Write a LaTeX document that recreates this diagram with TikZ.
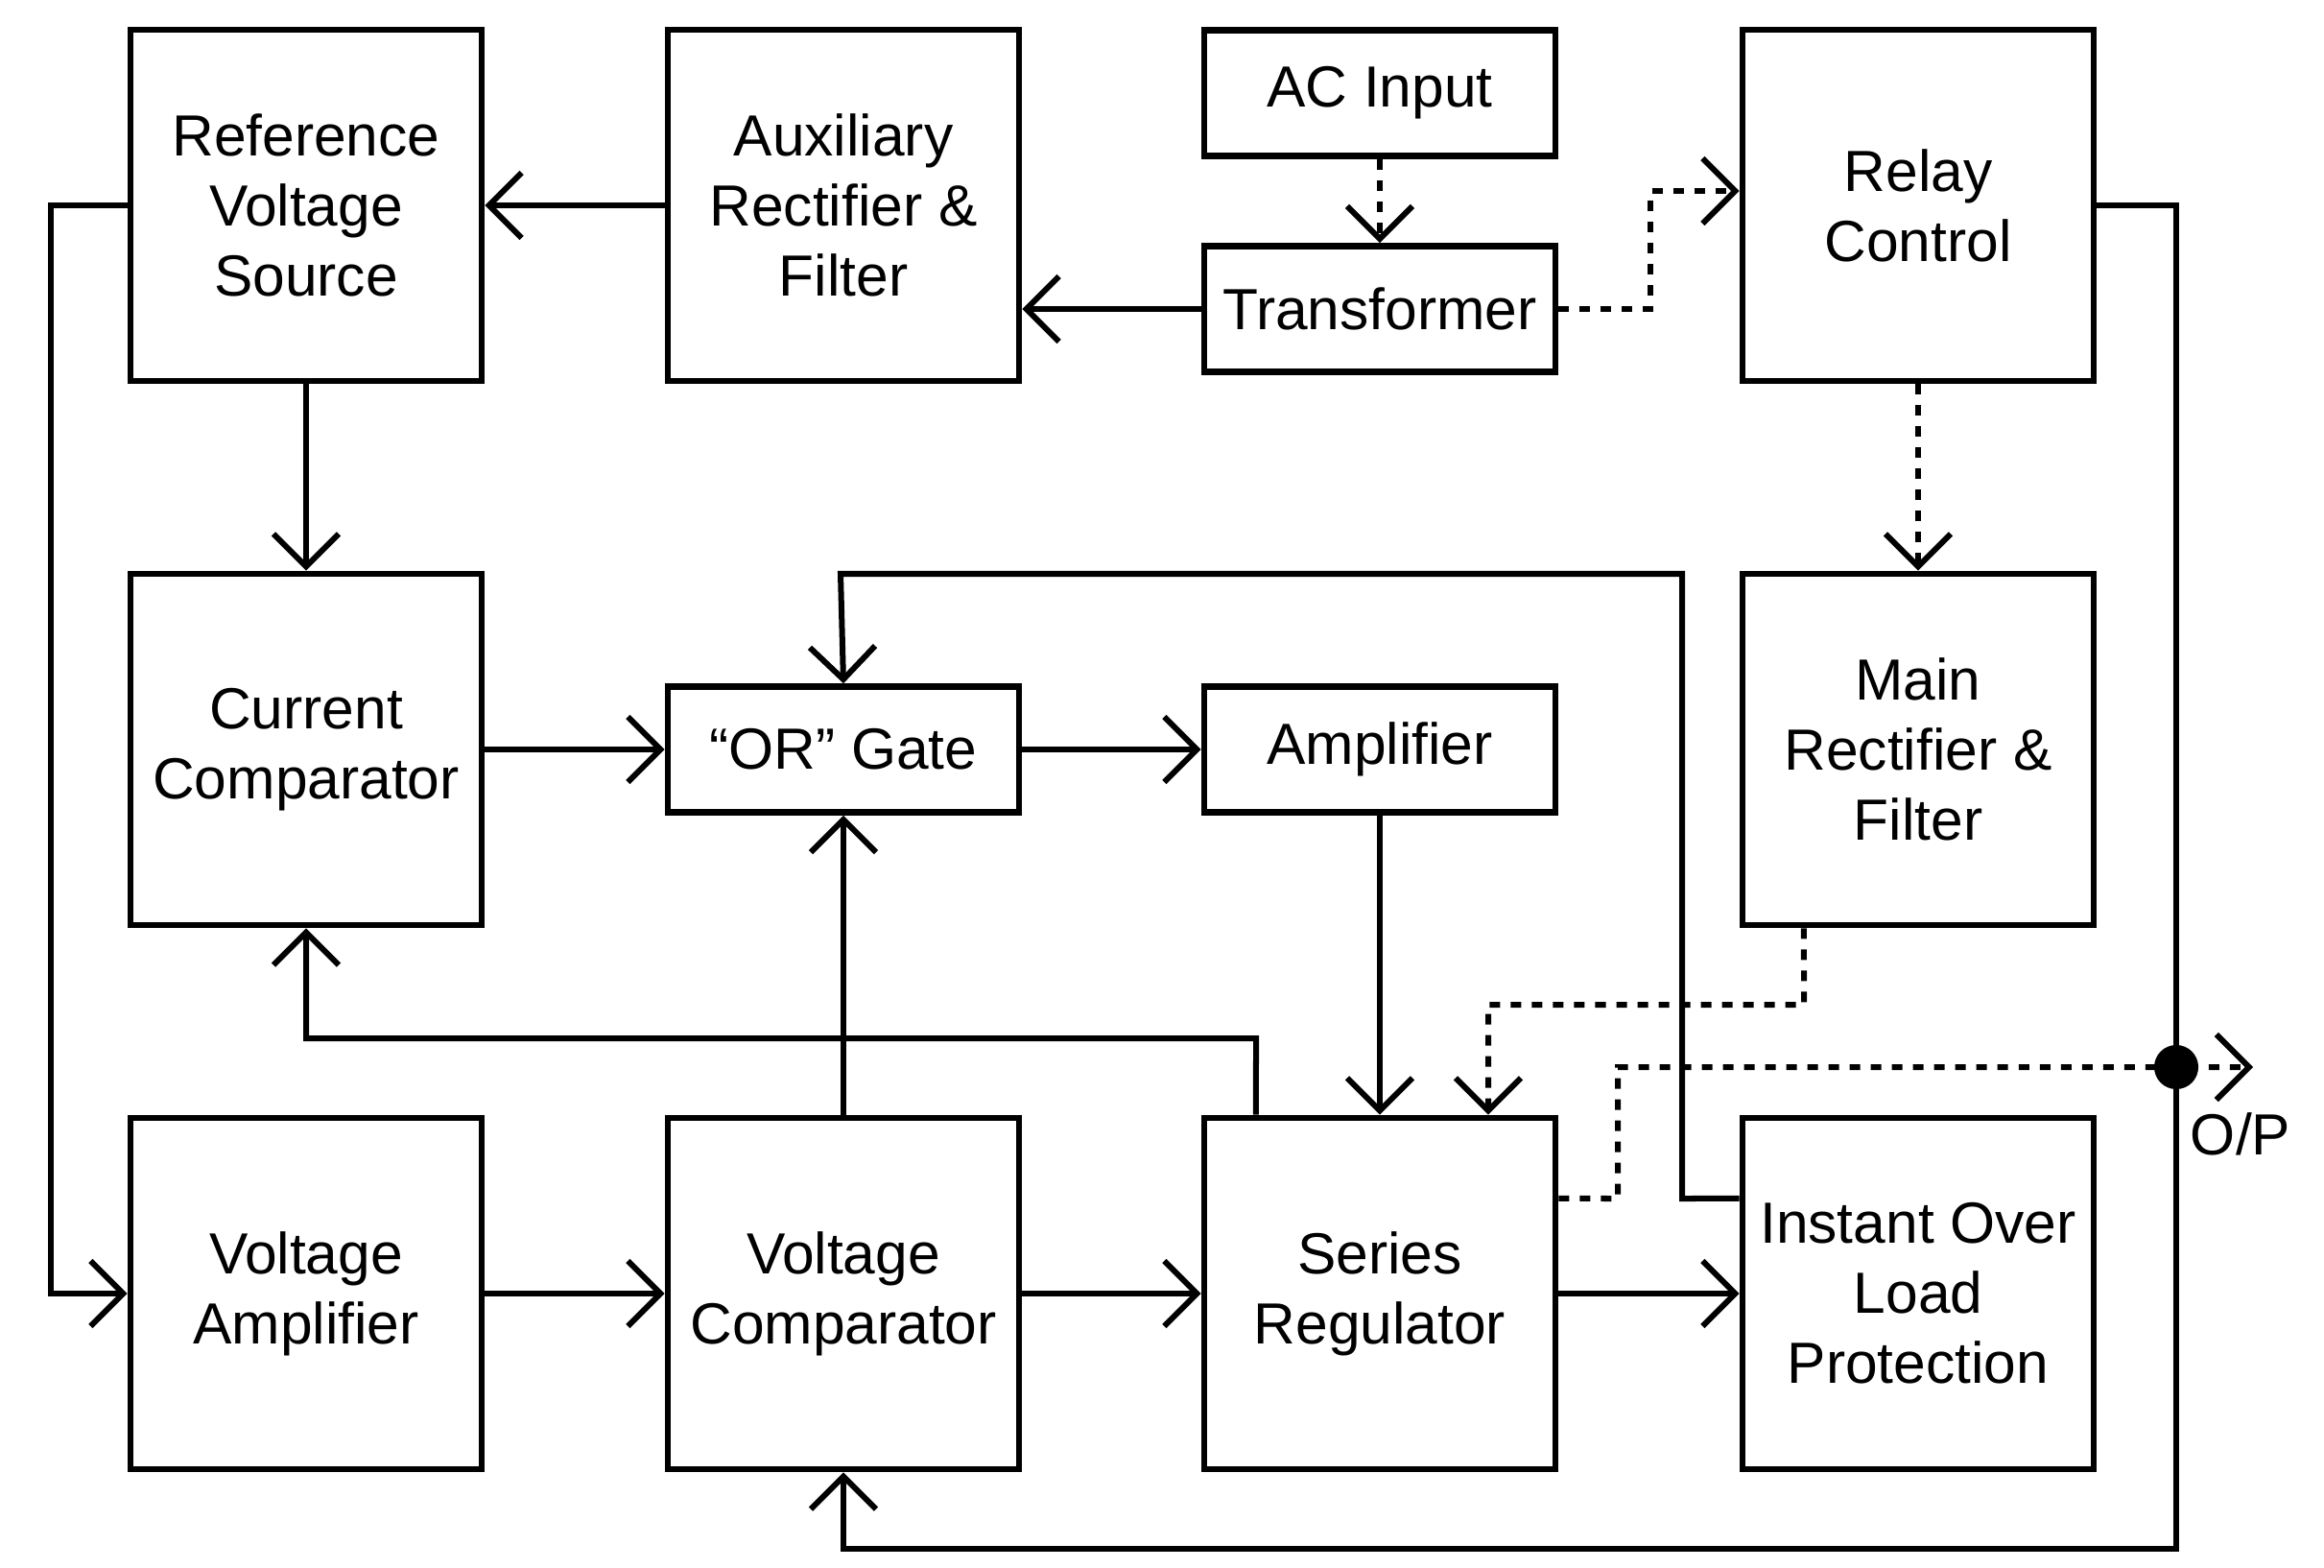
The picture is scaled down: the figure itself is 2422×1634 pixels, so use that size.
\documentclass[tikz,border=0pt]{standalone}
\usepackage{fontspec}
\setmainfont{Liberation Sans}
\usetikzlibrary{arrows.meta}
\begin{document}
\begin{tikzpicture}[x=0.01cm,y=-0.01cm,
  box/.style={draw,line width=0.065cm,align=center,inner sep=0pt,font=\fontsize{17.2}{20.8}\selectfont,minimum width=3.66cm},
  tall/.style={box,minimum height=3.66cm},
  short/.style={box,minimum height=1.31cm},
  conn/.style={line width=0.06cm},
  arr/.style={conn,-{Straight Barb[length=0.34cm,width=0.68cm,line width=0.06cm]}},
  dotline/.style={dash pattern=on 0.11cm off 0.11cm}
]
\useasboundingbox (0,0) rectangle (2422,1634);
% nodes
\node[tall] (ref) at (319,214) {Reference\\Voltage\\Source};
\node[tall] (aux) at (879,214) {Auxiliary\\Rectifier \&\\Filter};
\node[short] (ac) at (1438,97) {AC Input};
\node[short] (tr) at (1438,322) {Transformer};
\node[tall] (relay) at (1999,214) {Relay\\Control};
\node[tall] (cur) at (319,781) {Current\\Comparator};
\node[short] (or) at (879,781) {“OR” Gate};
\node[short] (amp) at (1438,781) {Amplifier};
\node[tall] (main) at (1999,781) {Main\\Rectifier \&\\Filter};
\node[tall] (vamp) at (319,1348) {Voltage\\Amplifier};
\node[tall] (vcomp) at (879,1348) {Voltage\\Comparator};
\node[tall] (ser) at (1438,1348) {Series\\Regulator};
\node[tall] (iolp) at (1999,1348) {Instant Over\\Load\\Protection};
\node[font=\fontsize{17.2}{20.8}\selectfont,inner sep=0pt] (op) at (2335,1182) {O/P};
% coordinates
\coordinate (t1) at (1720,322);
\coordinate (t2) at (1720,199);
\coordinate (l1) at (53,214);
\coordinate (c1) at (1309,1082);
\coordinate (r1) at (2268,214);
\coordinate (r2) at (2268,1614);
\coordinate (f1) at (1753,1249);
\coordinate (f2) at (1753,598);
\coordinate (f3) at (876,598);
\coordinate (m1) at (1880,1047);
\coordinate (m2) at (1551,1047);
\coordinate (o1) at (1686,1249);
\coordinate (o2) at (1686,1112);
\coordinate (o3) at (2348,1112);
\coordinate (jn) at (2268,1112);
% connectors
\draw[arr] (aux.west) -- (ref.east);
\draw[arr] (tr.west) -- (aux.east |- tr.west);
\draw[arr,dotline] (ac.south) -- (tr.north);
\draw[arr,dotline] (tr.east) -- (t1) -- (t2) -- (relay.west |- t2);
\draw[arr,dotline] (relay.south) -- (main.north);
\draw[arr] (ref.south) -- (cur.north);
\draw[arr] (cur.east) -- (or.west);
\draw[arr] (or.east) -- (amp.west);
\draw[arr] (amp.south) -- (ser.north);
\draw[arr] (vcomp.north) -- (or.south);
\draw[arr] (vamp.east) -- (vcomp.west);
\draw[arr] (vcomp.east) -- (ser.west);
\draw[arr] (ser.east) -- (iolp.west);
\draw[arr] (ref.west) -- (l1) |- (vamp.west);
\draw[arr] ([xshift=-1.29cm]ser.north) -- (c1) -| (cur.south);
\draw[arr] (relay.east) -- (r1) -- (r2) -| (vcomp.south);
\draw[arr] ([yshift=0.99cm]iolp.west) -- (f1) -- (f2) -- (f3) -- (or.north);
\draw[arr,dotline] ([xshift=-1.19cm]main.south) -- (m1) -- (m2) -- ([xshift=1.13cm]ser.north);
\draw[arr,dotline] ([yshift=0.99cm]ser.east) -- (o1) -- (o2) -- (o3);
\fill (jn) circle (0.23cm);
\end{tikzpicture}
\end{document}
